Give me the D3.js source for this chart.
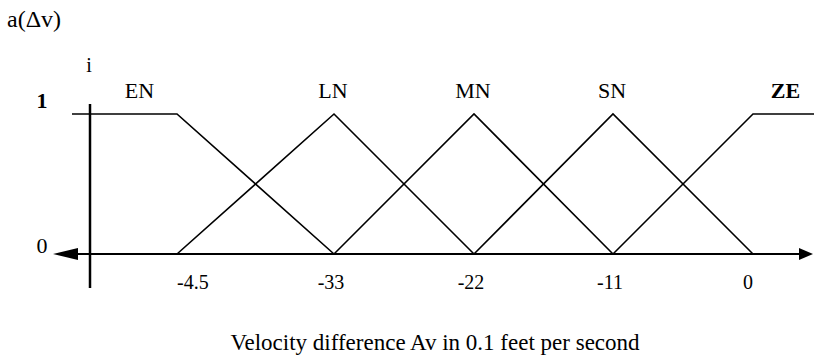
<!DOCTYPE html>
<html>
<head>
<meta charset="utf-8">
<script src="https://cdn.jsdelivr.net/npm/d3@7"></script>
<style>
  body { margin: 0; background: #fff; }
  text { font-family: "Liberation Serif", "Times New Roman", serif; fill: #000; }
</style>
</head>
<body>
<div id="chart"></div>
<script>
// fuzzy sets for the velocity difference
const setNames = ['EN', 'LN', 'MN', 'SN', 'ZE'];
const setXs = [
    [-50, -44, -33],
    [-44, -33, -22],
    [-33, -22, -11],
    [-22, -11, 0],
    [-11, 0, 5]
];
const setMus = [
    [1, 1, 0],
    [0, 1, 0],
    [0, 1, 0],
    [0, 1, 0],
    [0, 1, 1]
];
const tickValues = [-44, -33, -22, -11, 0];
const tickLabels = ['-4.5', '-33', '-22', '-11', '0'];
const yTickValues = [0, 1];
const yTickLabels = ['0', '1'];

const width = 814;
const height = 358;

const svg = d3.select('#chart')
    .append('svg')
        .attr('width', width)
        .attr('height', height);

// the original axis is not evenly spaced, so piecewise
const x = d3.scaleLinear()
    .domain([-50, -44, -33, -22, -11, 0, 5])
    .range([90, 177, 334, 474, 613, 753, 814]);
const y = d3.scaleLinear()
    .domain([0, 1])
    .range([254, 114]);

const line = d3.line()
    .x(d => x(d[0]))
    .y(d => y(d[1]));

const sets = setNames.map((name, i) => ({
    name: name,
    pts: setXs[i].map((v, j) => [v, setMus[i][j]])
}));

svg.selectAll('path.set')
    .data(sets)
    .join('path')
        .attr('class', 'set')
        .attr('d', d => line(d.pts))
        .attr('fill', 'none')
        .attr('stroke', '#000')
        .attr('stroke-width', 1.6);

// set labels centred over the top of each set
svg.selectAll('text.setlabel')
    .data(sets)
    .join('text')
        .attr('class', 'setlabel')
        .attr('x', d => {
            const top = d.pts.filter(p => p[1] === 1);
            return (x(d3.min(top, p => p[0])) + x(d3.max(top, p => p[0]))) / 2 + (d.name === 'EN' ? 6 : (d.name === 'ZE' ? 2 : -1));
        })
        .attr('y', 98)
        .attr('text-anchor', 'middle')
        .attr('font-size', 22)
        .attr('font-weight', d => d.name === 'ZE' ? 'bold' : 'normal')
        .text(d => d.name);

// x axis with arrows on both ends
const y0 = y(0);
svg.append('line')
    .attr('x1', 70).attr('y1', y0)
    .attr('x2', 802).attr('y2', y0)
    .attr('stroke', '#000')
    .attr('stroke-width', 2);
svg.append('path')
    .attr('d', `M53,${y0} L78,${y0 - 6} L78,${y0 + 6} Z`)
    .attr('fill', '#000');
svg.append('path')
    .attr('d', `M813,${y0} L799,${y0 - 6} L799,${y0 + 6} Z`)
    .attr('fill', '#000');

// y axis
const axisX = x(-50);
svg.append('line')
    .attr('x1', axisX).attr('y1', 104)
    .attr('x2', axisX).attr('y2', 288)
    .attr('stroke', '#000')
    .attr('stroke-width', 2.5);
svg.append('line')
    .attr('x1', 72).attr('y1', y(1))
    .attr('x2', axisX).attr('y2', y(1))
    .attr('stroke', '#000')
    .attr('stroke-width', 1.5);
svg.append('text')
    .attr('x', axisX - 1)
    .attr('y', 72)
    .attr('text-anchor', 'middle')
    .attr('font-size', 20)
    .text('i');

svg.selectAll('text.ylabel')
    .data(yTickValues)
    .join('text')
        .attr('class', 'ylabel')
        .attr('x', 42)
        .attr('y', d => d === 1 ? 108 : 253)
        .attr('text-anchor', 'middle')
        .attr('font-size', 22)
        .attr('font-weight', d => d === 1 ? 'bold' : 'normal')
        .text((d, i) => yTickLabels[i]);

// tick labels under the axis
svg.selectAll('text.xlabel')
    .data(tickValues)
    .join('text')
        .attr('class', 'xlabel')
        .attr('x', (d, i) => x(d) + (i === 0 || i === tickValues.length - 1 ? 0 : -3))
        .attr('y', 289)
        .attr('text-anchor', (d, i) => i === 0 ? 'start' : (i === tickValues.length - 1 ? 'end' : 'middle'))
        .attr('font-size', 20)
        .text((d, i) => tickLabels[i]);

// titles
svg.append('text')
    .attr('x', 7)
    .attr('y', 27)
    .attr('font-size', 24)
    .text('a(\u0394v)');

svg.append('text')
    .attr('x', 435)
    .attr('y', 350)
    .attr('text-anchor', 'middle')
    .attr('font-size', 23)
    .text('Velocity difference Av in 0.1 feet per second');
</script>
</body>
</html>
